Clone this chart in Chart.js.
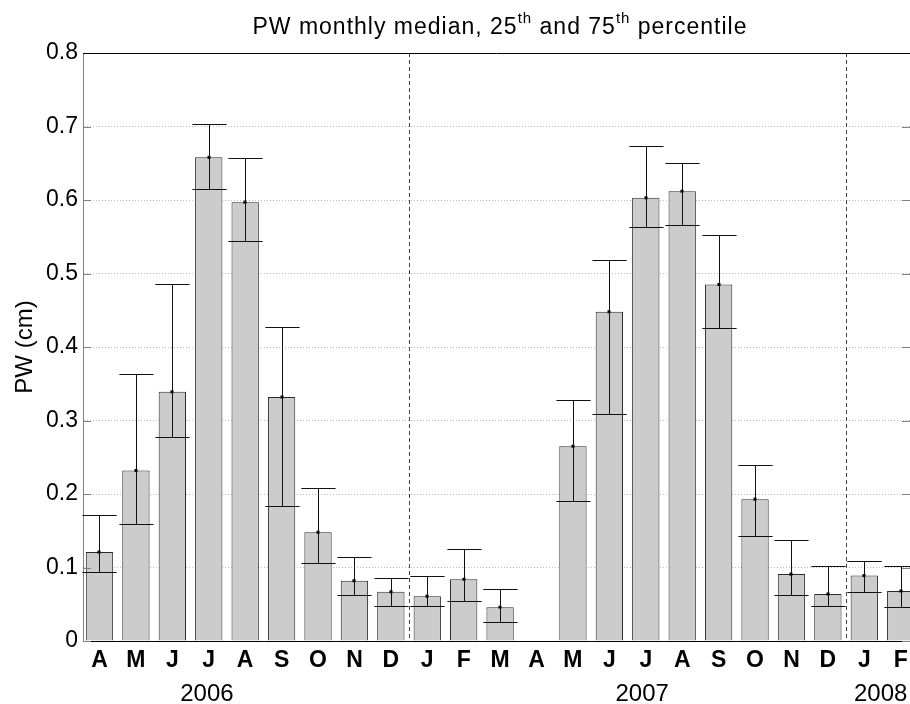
<!DOCTYPE html>
<html>
<head>
<meta charset="utf-8">
<script src="https://cdn.jsdelivr.net/npm/chart.js@4.4.0/dist/chart.umd.min.js"></script>
<style>
  body { margin: 0; background: #fff; }
  #wrap { width: 910px; height: 704px; }
</style>
</head>
<body>
<div id="wrap"><canvas id="pwChart" width="910" height="704"></canvas></div>
<script>
// month initials, Apr 2006 .. Feb 2008
const months = ['A','M','J','J','A','S','O','N','D','J','F','M','A','M','J','J','A','S','O','N','D','J','F']
const medianPW = [0.121, 0.232, 0.339, 0.658, 0.597, 0.332, 0.148, 0.082, 0.067, 0.061, 0.084, 0.046, null,
                  0.265, 0.448, 0.603, 0.612, 0.485, 0.193, 0.091, 0.064, 0.089, 0.068]
const p25 = [0.094, 0.159, 0.278, 0.615, 0.544, 0.184, 0.106, 0.062, 0.048, 0.047, 0.054, 0.026, null,
             0.191, 0.309, 0.563, 0.566, 0.426, 0.143, 0.062, 0.048, 0.067, 0.046]
const p75 = [0.171, 0.363, 0.486, 0.704, 0.657, 0.427, 0.208, 0.114, 0.086, 0.089, 0.125, 0.071, null,
             0.328, 0.519, 0.673, 0.650, 0.553, 0.239, 0.138, 0.102, 0.109, 0.102]
const yearLabels = ['2006', '2007', '2008']
const yearPos = [3.95, 15.9, 22.45]
const yearBreaks = [9.5, 21.5]
const yTicks = [0, 0.1, 0.2, 0.3, 0.4, 0.5, 0.6, 0.7, 0.8]

const FONT = '"Liberation Sans", Arial, sans-serif'

const barPoints = medianPW.map((v, i) => ({ x: i + 1, y: v }))

function drawTitle(ctx) {
    // title with superscript "th"
    const parts = [
        ['PW monthly median, 25', false],
        ['th', true],
        [' and 75', false],
        ['th', true],
        [' percentile', false]
    ]
    const big = '23px ' + FONT
    const small = '15px ' + FONT
    ctx.letterSpacing = '1px'
    let total = 0
    parts.forEach(p => {
        ctx.font = p[1] ? small : big
        total += ctx.measureText(p[0]).width
    })
    let x = 500 - total / 2
    const base = 34
    ctx.fillStyle = '#000'
    ctx.textAlign = 'left'
    ctx.textBaseline = 'alphabetic'
    parts.forEach(p => {
        ctx.font = p[1] ? small : big
        ctx.fillText(p[0], x, p[1] ? base - 11 : base)
        x += ctx.measureText(p[0]).width
    })
    ctx.letterSpacing = '0px'
}

const decorPlugin = {
    id: 'decor',
    afterDraw(chart) {
        const ctx = chart.ctx
        const xs = chart.scales.x
        const ys = chart.scales.y
        const area = chart.chartArea
        ctx.save()

        // year separators
        ctx.strokeStyle = '#444'
        ctx.lineWidth = 1
        ctx.setLineDash([4, 3])
        yearBreaks.forEach(b => {
            const px = Math.round(xs.getPixelForValue(b)) + 0.5
            ctx.beginPath()
            ctx.moveTo(px, area.top)
            ctx.lineTo(px, area.bottom)
            ctx.stroke()
        })
        ctx.setLineDash([])

        // error bars: 25th to 75th percentile
        const capHalf = xs.getPixelForValue(1.47) - xs.getPixelForValue(1)
        ctx.strokeStyle = '#111'
        medianPW.forEach((m, i) => {
            if (m === null) return
            const px = Math.round(xs.getPixelForValue(i + 1)) + 0.5
            const yLo = Math.round(ys.getPixelForValue(p25[i])) + 0.5
            const yHi = Math.round(ys.getPixelForValue(p75[i])) + 0.5
            ctx.beginPath()
            ctx.moveTo(px, yHi)
            ctx.lineTo(px, yLo)
            ctx.moveTo(px - capHalf, yHi)
            ctx.lineTo(px + capHalf, yHi)
            ctx.moveTo(px - capHalf, yLo)
            ctx.lineTo(px + capHalf, yLo)
            ctx.stroke()
            const ym = ys.getPixelForValue(m)
            ctx.fillStyle = '#000'
            ctx.fillRect(px - 2, ym - 1.5, 3, 3)
        })

        // inner tick marks, left and right
        ctx.strokeStyle = '#808080'
        yTicks.forEach(t => {
            const py = Math.round(ys.getPixelForValue(t)) + 0.5
            ctx.beginPath()
            ctx.moveTo(area.left, py)
            ctx.lineTo(area.left + 8, py)
            ctx.moveTo(area.right, py)
            ctx.lineTo(area.right - 8, py)
            ctx.stroke()
        })

        // top box line
        ctx.strokeStyle = '#000'
        ctx.beginPath()
        ctx.moveTo(area.left, area.top + 0.5)
        ctx.lineTo(area.right, area.top + 0.5)
        ctx.stroke()

        // year labels
        ctx.fillStyle = '#000'
        ctx.font = '24px ' + FONT
        ctx.textAlign = 'center'
        ctx.textBaseline = 'middle'
        yearLabels.forEach((lab, i) => {
            ctx.fillText(lab, xs.getPixelForValue(yearPos[i]), 694)
        })

        drawTitle(ctx)
        ctx.restore()
    }
}

const ctx = document.getElementById('pwChart').getContext('2d')
new Chart(ctx, {
    type: 'bar',
    data: {
        datasets: [{
            label: 'PW median',
            data: barPoints,
            backgroundColor: '#cccccc',
            borderColor: '#2a2a2a',
            borderWidth: 1,
            barPercentage: 0.75,
            categoryPercentage: 1
        }]
    },
    options: {
        responsive: false,
        animation: false,
        devicePixelRatio: 1,
        layout: { padding: { top: 53, right: 0, left: 0, bottom: 0 } },
        plugins: {
            legend: { display: false },
            tooltip: { enabled: false },
            title: { display: false }
        },
        scales: {
            x: {
                type: 'linear',
                offset: false,
                min: 0.547,
                max: 23.255,
                afterFit: s => {
                    s.height = 63
                    s.paddingLeft = 0
                    s.paddingRight = 0
                },
                afterBuildTicks: s => { s.ticks = months.map((m, i) => ({ value: i + 1 })) },
                grid: { display: false, drawTicks: false, offset: false },
                border: { color: '#000', width: 1 },
                ticks: {
                    autoSkip: false,
                    maxRotation: 0,
                    padding: 6,
                    color: '#000',
                    font: { family: FONT, size: 23, weight: 'bold' },
                    callback: v => months[Math.round(v) - 1]
                }
            },
            y: {
                min: 0,
                max: 0.8,
                afterFit: s => { s.width = 83 },
                afterBuildTicks: s => { s.ticks = yTicks.map(v => ({ value: v })) },
                border: { color: '#808080', width: 1, dash: [1, 2] },
                grid: {
                    drawTicks: false,
                    color: c => (c.tick.value > 0 && c.tick.value < 0.8) ? '#bdbdbd' : 'rgba(0,0,0,0)',
                    lineWidth: 1
                },
                ticks: {
                    padding: 5,
                    color: '#000',
                    font: { family: FONT, size: 23 },
                    callback: v => (v === 0 ? '0' : v.toFixed(1))
                },
                title: {
                    display: true,
                    text: 'PW (cm)',
                    color: '#000',
                    font: { family: FONT, size: 24 },
                    padding: { top: 11, bottom: 0 }
                }
            }
        }
    },
    plugins: [decorPlugin]
})
</script>
</body>
</html>
